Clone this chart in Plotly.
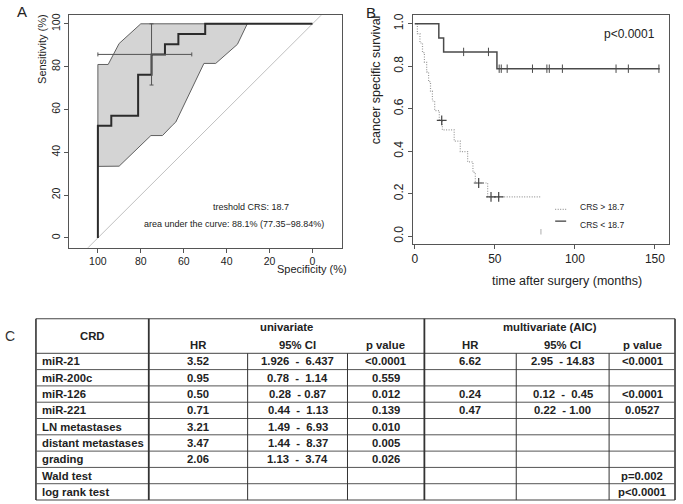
import plotly.graph_objects as go

W, H = 683, 504
FONT = "Liberation Sans, Arial, sans-serif"

# ---------------- Panel A: ROC curve ----------------
roc_spec = [100, 100, 93.75, 81.25, 75, 68.75, 62.5, 50, 0]
roc_sens = [0, 52.4, 57.1, 76.2, 85.7, 90.5, 95.2, 100, 100]

band_upper_spec = [100, 100, 95.2, 90.1, 80.0, 30.4]
band_upper_sens = [33.4, 81.0, 81.0, 90.8, 100, 100]
band_lower_spec = [35.0, 45.1, 50.6, 63.7, 65.3, 69.9, 75.3, 90.1, 100]
band_lower_sens = [90.4, 81.5, 81.5, 54.1, 52.6, 47.8, 47.8, 33.5, 33.4]

thr_spec, thr_spec_lo, thr_spec_hi = 75, 50, 93.75
thr_sens, thr_sens_lo, thr_sens_hi = 85.7, 71.4, 100

roc_ticks = [0, 20, 40, 60, 80, 100]
roc_text1 = "treshold CRS: 18.7"
roc_text2 = "area under the curve: 88.1% (77.35\u221298.84%)"

# ---------------- Panel B: Kaplan-Meier ----------------
low_t = [0, 15, 18, 51.3, 153]
low_s = [1.0, 0.933, 0.867, 0.788, 0.788]
low_cens_t = [30.5, 46, 52.7, 54, 57.7, 73.5, 82.5, 84, 92.2, 125.7, 133.4, 152.5]
low_cens_s = [0.867, 0.867, 0.788, 0.788, 0.788, 0.788, 0.788, 0.788, 0.788, 0.788, 0.788, 0.788]

high_t = [0, 1.6, 3.2, 4.8, 6.0, 7.4, 8.6, 9.8, 11.0, 12.4, 15.3, 17.2, 24.6, 28.4, 33.0, 36.3, 37.8, 45.5, 79]
high_s = [1.0, 0.953, 0.909, 0.864, 0.818, 0.773, 0.727, 0.682, 0.636, 0.591, 0.545, 0.5, 0.447, 0.398,
          0.349, 0.300, 0.250, 0.185, 0.185]
high_cens_t = [16.8, 39.9, 47.6, 52.4]
high_cens_s = [0.545, 0.250, 0.185, 0.185]

km_xticks = [0, 50, 100, 150]
km_yticks = [0.0, 0.2, 0.4, 0.6, 0.8, 1.0]
legend_labels = ["CRS > 18.7", "CRS < 18.7"]
p_text = "p<0.0001"

# ---------------- Panel C: table ----------------
row_labels = ["miR-21", "miR-200c", "miR-126", "miR-221", "LN metastases",
              "distant metastases", "grading", "Wald test", "log rank test"]
uni_hr = ["3.52", "0.95", "0.50", "0.71", "3.21", "3.47", "2.06", "", ""]
uni_ci = ["1.926  -  6.437", "0.78  -  1.14", "0.28  - 0.87", "0.44  -  1.13",
          "1.49  -  6.93", "1.44  -  8.37", "1.13  -  3.74", "", ""]
uni_p = ["<0.0001", "0.559", "0.012", "0.139", "0.010", "0.005", "0.026", "", ""]
multi_hr = ["6.62", "", "0.24", "0.47", "", "", "", "", ""]
multi_ci = ["2.95  - 14.83", "", "0.12  -  0.45", "0.22  - 1.00", "", "", "", "", ""]
multi_p = ["<0.0001", "", "<0.0001", "0.0527", "", "", "", "p=0.002", "p<0.0001"]
col_headers = ["HR", "95% CI", "p value", "HR", "95% CI", "p value"]


def px(x):
    return x / W


def py(y):
    return 1 - y / H


fig = go.Figure()

# ---- Panel A traces ----
band_x = band_upper_spec + band_lower_spec
band_y = band_upper_sens + band_lower_sens
fig.add_trace(go.Scatter(x=band_x, y=band_y, fill="toself", fillcolor="#d4d4d4",
                         line=dict(color="#606060", width=1), mode="lines",
                         xaxis="x", yaxis="y", hoverinfo="skip"))
diag_x = [120, -20]
fig.add_trace(go.Scatter(x=diag_x, y=[100 - v for v in diag_x], mode="lines",
                         line=dict(color="#c0c0c0", width=1), xaxis="x", yaxis="y"))
fig.add_trace(go.Scatter(x=roc_spec, y=roc_sens, mode="lines", line_shape="hv",
                         line=dict(color="#2b2b2b", width=2), xaxis="x", yaxis="y"))
fig.add_trace(go.Scatter(
    x=[thr_spec], y=[thr_sens], mode="markers", marker=dict(size=1, color="rgba(0,0,0,0)"),
    error_x=dict(type="data", symmetric=False, array=[thr_spec - thr_spec_lo],
                 arrayminus=[thr_spec_hi - thr_spec], color="#555", thickness=1, width=2),
    error_y=dict(type="data", symmetric=False, array=[thr_sens_hi - thr_sens],
                 arrayminus=[thr_sens - thr_sens_lo], color="#555", thickness=1, width=2),
    xaxis="x", yaxis="y"))

# ---- Panel B traces ----
fig.add_trace(go.Scatter(x=high_t, y=high_s, mode="lines", line_shape="hv",
                         line=dict(color="#9a9a9a", width=1.2, dash="1px,1.5px"),
                         xaxis="x2", yaxis="y2"))
fig.add_trace(go.Scatter(x=low_t, y=low_s, mode="lines", line_shape="hv",
                         line=dict(color="#4a4a4a", width=1.5), xaxis="x2", yaxis="y2"))
fig.add_trace(go.Scatter(x=low_cens_t, y=low_cens_s, mode="markers",
                         marker=dict(symbol="line-ns", size=6, line=dict(color="#4a4a4a", width=1)),
                         xaxis="x2", yaxis="y2"))
fig.add_trace(go.Scatter(x=high_cens_t, y=high_cens_s, mode="markers",
                         marker=dict(symbol="cross-thin", size=7, line=dict(color="#444", width=1.2)),
                         xaxis="x2", yaxis="y2"))

axis_common = dict(showline=True, mirror=True, linecolor="#555", linewidth=1,
                   ticks="outside", ticklen=4, tickcolor="#555", tickwidth=1,
                   showgrid=False, zeroline=False)

fig.update_layout(
    width=W, height=H, margin=dict(l=0, r=0, t=0, b=0),
    paper_bgcolor="white", plot_bgcolor="white", showlegend=False,
    font=dict(family=FONT, color="#222"),
    xaxis=dict(domain=[px(68), px(341)], range=[113.5, -13.5], tickvals=roc_ticks,
               tickfont=dict(size=10.5), anchor="y", **axis_common),
    yaxis=dict(domain=[py(246.7), py(13.3)], range=[-4.6, 104], tickvals=roc_ticks,
               tickangle=-90, tickfont=dict(size=10.5), anchor="x", **axis_common),
    xaxis2=dict(domain=[px(412.5), px(669)], range=[-1.2, 158.8], tickvals=km_xticks,
                tickfont=dict(size=12), anchor="y2", **axis_common),
    yaxis2=dict(domain=[py(242.7), py(13)], range=[-0.036, 1.041], tickvals=km_yticks,
                tickformat=".1f", tickangle=-90, tickfont=dict(size=12), anchor="x2", **axis_common),
)

ann = []
shapes = []


def text(x, y, t, size, anchor="center", angle=0, color="#222", bold=False):
    ann.append(dict(x=px(x), y=py(y), xref="paper", yref="paper", text=t, showarrow=False,
                    xanchor=anchor, yanchor="middle", textangle=angle,
                    font=dict(size=size, family=FONT, color=color,
                              weight="bold" if bold else "normal")))


def line(x0, y0, x1, y1, color="#444", width=1, dash="solid"):
    shapes.append(dict(type="line", xref="paper", yref="paper", x0=px(x0), y0=py(y0),
                       x1=px(x1), y1=py(y1), line=dict(color=color, width=width, dash=dash)))


# Panel labels
text(21, 10, "A", 15)
text(370.5, 10.5, "B", 15)
text(8.7, 335, "C", 14, color="#333")

# Panel A texts
text(41.7, 47.5, "Sensitivity (%)", 11, angle=-90)
text(311.7, 268.3, "Specificity (%)", 11)
text(250.3, 205.7, roc_text1, 9)
text(233.3, 222.7, roc_text2, 9)

# Panel B texts
text(375, 78, "cancer specific survival", 12.5, angle=-90)
text(567, 280, "time after surgery (months)", 12.5)
text(629, 32.3, p_text, 12)
line(555, 208.3, 566, 208.3, color="#9a9a9a", width=1.2, dash="1px,1.5px")
line(555, 220, 566, 220, color="#333", width=1.2)
text(578, 206, legend_labels[0], 8.5, anchor="left")
text(578, 224.3, legend_labels[1], 8.5, anchor="left")
line(540.7, 228, 540.7, 233.5, color="#c8c8c8", width=1.5)

# ---- Table ----
t_left, t_right, t_top, t_head, t_bottom = 35, 675, 318, 352.7, 500
col_x = [148, 247, 347, 424, 516, 609]
n_rows = len(row_labels)
row_h = (t_bottom - t_head) / n_rows

# borders
line(t_left, t_top, t_right, t_top, color="#444", width=1.2)
line(t_left, t_bottom, t_right, t_bottom, color="#444", width=1.2)
line(t_left, t_top, t_left, t_bottom, color="#333", width=1.6)
line(t_right, t_top, t_right, t_bottom, color="#333", width=1.6)
line(t_left, t_head, t_right, t_head, color="#444", width=1)
for i in range(1, n_rows):
    yy = t_head + i * row_h
    line(t_left, yy, t_right, yy, color="#555", width=1)
for cx in col_x:
    full = cx in (148, 424)
    line(cx, t_top if full else t_head, cx, t_bottom, color="#333",
         width=1.8 if full else 1)

# headers
TS = 11.3
text((t_left + col_x[0]) / 2, 335, "CRD", TS, bold=True)
text((col_x[0] + col_x[3]) / 2, 326.7, "univariate", TS, bold=True)
text((col_x[3] + t_right) / 2, 326.7, "multivariate (AIC)", TS, bold=True)
bounds = col_x + [t_right]
for j, h in enumerate(col_headers):
    text((bounds[j] + bounds[j + 1]) / 2, 344.3, h, TS, bold=True)

cols = [uni_hr, uni_ci, uni_p, multi_hr, multi_ci, multi_p]
for i, lab in enumerate(row_labels):
    yc = t_head + (i + 0.5) * row_h
    text(t_left + 4, yc, lab, TS, anchor="left", bold=True)
    for j, col in enumerate(cols):
        v = col[i]
        if v:
            text((bounds[j] + bounds[j + 1]) / 2, yc, v.replace(" ", "\u00a0"), TS, bold=True)

fig.update_layout(annotations=ann, shapes=shapes)
fig.write_html("out.html", config={"displayModeBar": False},
               post_script="document.body.style.margin='0px';")
